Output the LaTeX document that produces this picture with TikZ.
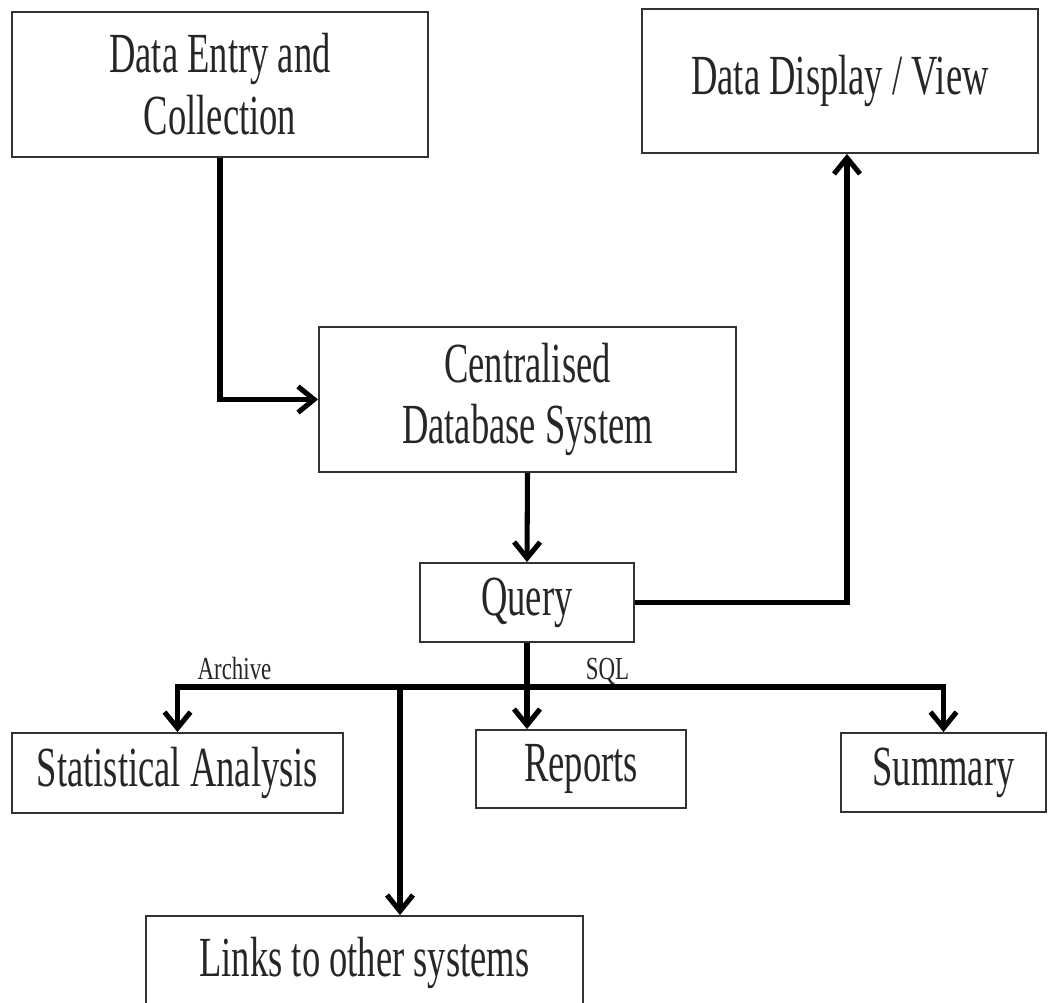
\documentclass[tikz,border=0pt]{standalone}
\usepackage{fontspec}
\setmainfont{Liberation Serif}
\usetikzlibrary{arrows.meta}
\newcommand{\tall}[2][1.55]{\scalebox{1}[#1]{#2}}
\begin{document}
\begin{tikzpicture}[x=0.025cm,y=-0.025cm]
		\tikzset{box/.style={draw=black!80,line width=1.3pt,align=center,inner sep=0pt,text=black!85,font=\fontsize{26}{44}\selectfont},
		flow/.style={line width=3.6pt,-{Straight Barb[length=4mm,width=6.5mm]}},
		tag/.style={anchor=base,inner sep=0pt,text=black!85,font=\fontsize{16.3}{20}\selectfont}}
		\useasboundingbox (0,0) rectangle (1048,1003);
		\node[box,minimum width=10.4cm,minimum height=3.625cm] (entry) at (220,84.5) {\tall{Data Entry and}\\\tall{Collection}};
		\node[box,minimum width=9.9cm,minimum height=3.6cm] (display) at (840,81) {\tall{Data Display / View}};
		\node[box,minimum width=10.425cm,minimum height=3.625cm] (central) at (527.5,399.5) {\tall{Centralised}\\\tall{Database System}};
		\node[box,minimum width=5.35cm,minimum height=1.975cm] (query) at (527,602.5) {\tall{Query}};
		\node[box,minimum width=8.275cm,minimum height=2cm] (stat) at (177.5,773) {\tall{Statistical Analysis}};
		\node[box,minimum width=5.25cm,minimum height=1.95cm] (reports) at (581,769) {\tall{Reports}};
		\node[box,minimum width=5.125cm,minimum height=1.975cm] (summary) at (943.5,772.5) {\tall{Summary}};
		\node[box,minimum width=10.925cm,minimum height=2.35cm] (links) at (364.5,963) {\tall{Links to other systems}};
		\coordinate (bus) at (527,687);
		\coordinate (tap) at (400,687);
		\draw[flow] (entry.south) |- (central.west);
		\draw[flow] (central.south) -- (query.north);
		\draw[flow] (query.east) -| ([xshift=0.175cm]display.south);
		\draw[flow] (query.south) -- (query.south |- reports.north);
		\draw[flow] (bus) -| (stat.north);
		\draw[flow] (bus) -| (summary.north);
		\draw[flow] (tap) -- (tap |- links.north);
		\node[tag] (archive) at (234.5,680) {\tall[1.4]{Archive}};
		\node[tag] (sql) at (607.5,680) {\tall[1.4]{SQL}};
	\end{tikzpicture}
\end{document}
